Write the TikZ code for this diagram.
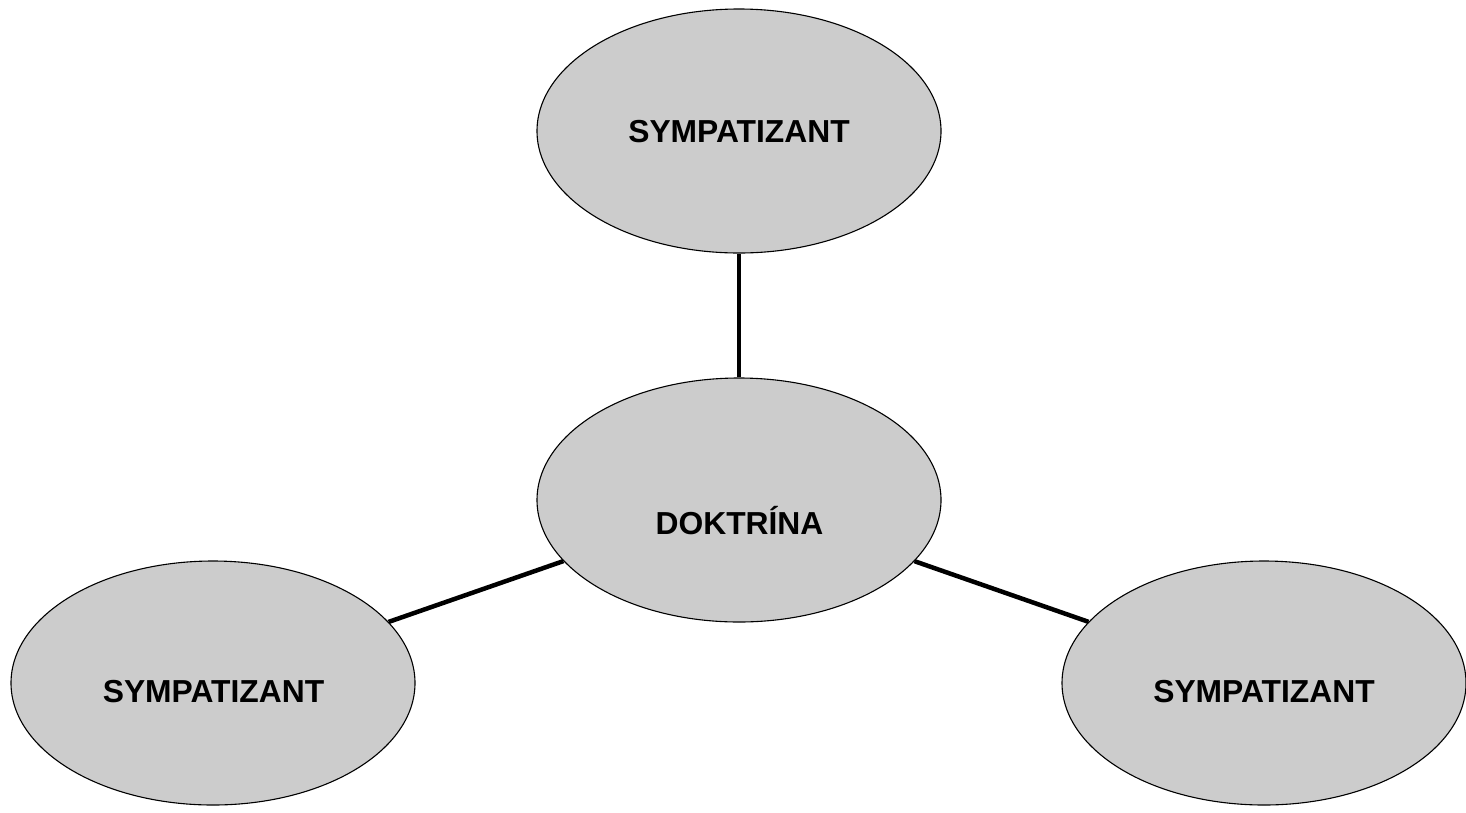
\documentclass[tikz,border=0pt]{standalone}
\usepackage{fontspec}
\setmainfont{Liberation Sans}
\usetikzlibrary{shapes.geometric}
\definecolor{FilledEllipse}{HTML}{CCCCCC}

\begin{document}
\begin{tikzpicture}[x=1pt,y=1pt,
    Pojem/.style={ellipse, draw=black, line width=1.1pt, fill=FilledEllipse,
        minimum width=404pt, minimum height=244pt, inner sep=0pt},
    Napis/.style={anchor=base, inner sep=0pt,
        font=\fontsize{31.8}{36}\selectfont\bfseries},
    Spojnica/.style={line width=4.5pt}]

    \useasboundingbox (0, 0) rectangle (1466, -812);

    \node[Pojem] (Stred) at (739, -500) {};
    \node[Pojem] (Hore) at (739, -131) {};
    \node[Pojem] (Vlavo) at (213, -683) {};
    \node[Pojem] (Vpravo) at (1264, -683) {};

    % Napisy v elipsach
    \node[Napis] (StredNapis) at (739.5, -534) {DOKTRÍNA};
    \node[Napis] (HoreNapis) at (739, -142) {SYMPATIZANT};
    \node[Napis] (VlavoNapis) at (213.5, -702) {SYMPATIZANT};
    \node[Napis] (VpravoNapis) at (1264, -702) {SYMPATIZANT};

    % Spojnice od stredu
    \draw[Spojnica] (Stred) -- (Hore);
    \draw[Spojnica] (Stred) -- (Vlavo);
    \draw[Spojnica] (Stred) -- (Vpravo);
\end{tikzpicture}
\end{document}
